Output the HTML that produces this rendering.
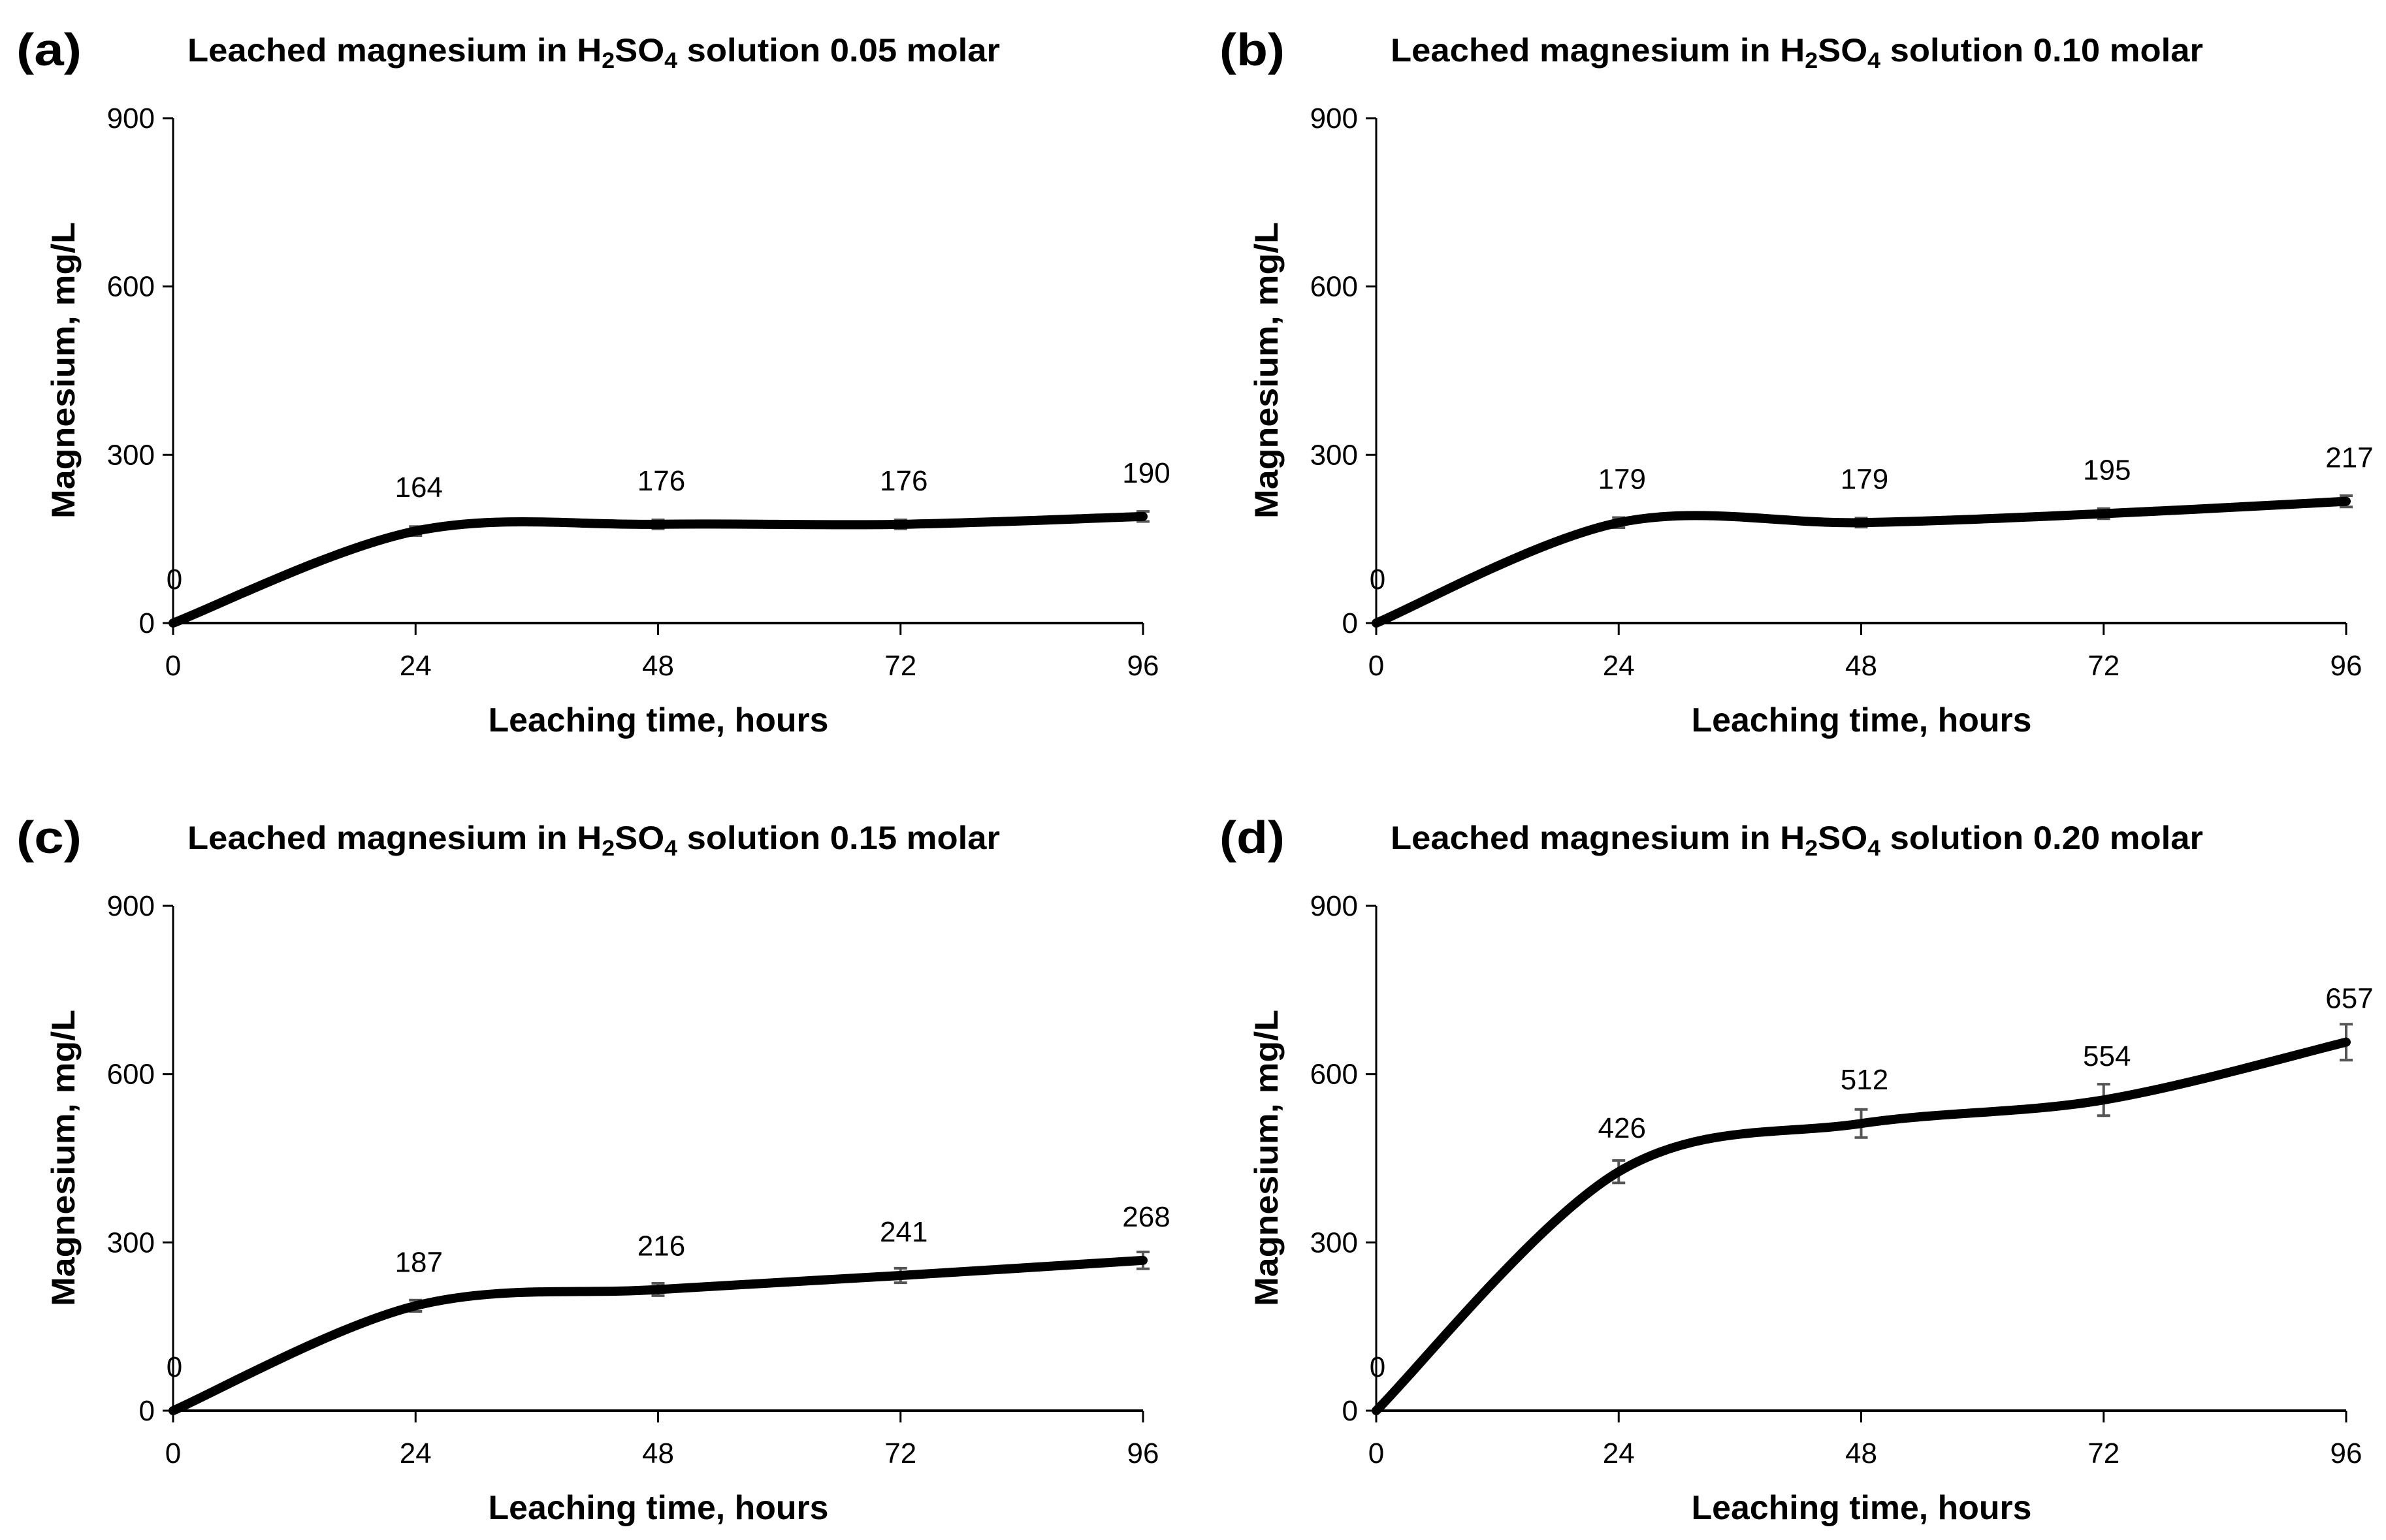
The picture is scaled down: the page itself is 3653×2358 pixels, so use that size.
<!DOCTYPE html>
<html><head><meta charset="utf-8"><style>
html,body{margin:0;padding:0;background:#fff;}
svg{display:block;}
text{font-family:"Liberation Sans Narrow","Liberation Sans",sans-serif;}
.b{font-family:"Liberation Sans",sans-serif;font-weight:bold;}
</style></head><body>
<svg id="fig" width="3653" height="2358" viewBox="0 0 3653 2358" xmlns="http://www.w3.org/2000/svg"></svg>
<script>
const hours = [0, 24, 48, 72, 96];
const valuesA = [0, 164, 176, 176, 190];
const valuesB = [0, 179, 179, 195, 217];
const valuesC = [0, 187, 216, 241, 268];
const valuesD = [0, 426, 512, 554, 657];
const errA = [0, 8, 8, 8, 9];
const errB = [0, 9, 8, 9, 10];
const errC = [0, 10, 11, 13, 15];
const errD = [0, 20, 25, 28, 32];
const yTicks = [0, 300, 600, 900];
const xTicks = [0, 24, 48, 72, 96];
const panelLetters = ["(a)", "(b)", "(c)", "(d)"];
const molarities = ["0.05", "0.10", "0.15", "0.20"];

const NS = "http://www.w3.org/2000/svg";
const svg = document.getElementById("fig");
function mk(tag, attrs, parent, txt){
  const e = document.createElementNS(NS, tag);
  for (const k in attrs) e.setAttribute(k, attrs[k]);
  if (txt !== undefined) e.textContent = txt;
  parent.appendChild(e);
  return e;
}
const panels = [
  {dx:0, dy:0, v:valuesA, e:errA},
  {dx:1842, dy:0, v:valuesB, e:errB},
  {dx:0, dy:1206, v:valuesC, e:errC},
  {dx:1842, dy:1206, v:valuesD, e:errD}
];
panels.forEach((p, i) => {
  const x0 = 265 + p.dx, x1 = 1750 + p.dx, y0 = 954 + p.dy, y1 = 181 + p.dy;
  const sx = h => x0 + (h - 0) / 96 * (x1 - x0);
  const sy = v => y0 - v / 900 * (y0 - y1);
  const g = mk("g", {}, svg);
  
  
  let t = mk("text", {x: 25 + p.dx, y: 100 + p.dy, "font-size": 70, class: "b", textLength: 100, lengthAdjust: "spacingAndGlyphs"}, g, panelLetters[i]);
  
  
  t = mk("text", {x: 287 + p.dx, y: 94 + p.dy, "font-size": 50, class: "b", textLength: 1244, lengthAdjust: "spacingAndGlyphs"}, g);
  
  
  t.appendChild(document.createTextNode("Leached magnesium in H"));
  mk("tspan", {dy: 10, "font-size": 34}, t, "2");
  mk("tspan", {dy: -10}, t, "SO");
  mk("tspan", {dy: 10, "font-size": 34}, t, "4");
  mk("tspan", {dy: -10}, t, " solution " + molarities[i] + " molar");
  let a = mk("line", {x1: x0, y1: y1, x2: x0, y2: y0, stroke: "#000", "stroke-width": 3}, g);
  
  
  a = mk("line", {x1: x0, y1: y0, x2: x1, y2: y0, stroke: "#000", "stroke-width": 4}, g);
  
  
  yTicks.forEach(v => {
    mk("line", {x1: x0 - 16, y1: sy(v), x2: x0, y2: sy(v), stroke: "#000", "stroke-width": 3}, g);
    const l = mk("text", {x: x0 - 28, y: sy(v) + 15, "font-size": 44, "text-anchor": "end"}, g, String(v));
    
    
  });
  xTicks.forEach(h => {
    mk("line", {x1: sx(h), y1: y0, x2: sx(h), y2: y0 + 18, stroke: "#000", "stroke-width": 3}, g);
    const l = mk("text", {x: sx(h), y: y0 + 80, "font-size": 44, "text-anchor": "middle"}, g, String(h));
    
    
  });
  t = mk("text", {x: 1008 + p.dx, y: 1120 + p.dy, "font-size": 52, class: "b", "text-anchor": "middle", textLength: 521, lengthAdjust: "spacingAndGlyphs"}, g, "Leaching time, hours");
  
  
  t = mk("text", {x: 0, y: 0, "font-size": 50, class: "b", "text-anchor": "middle", textLength: 454, lengthAdjust: "spacingAndGlyphs", transform: `translate(${114 + p.dx},${567 + p.dy}) rotate(-90)`}, g, "Magnesium, mg/L");
  
  
  p.v.forEach((v, k) => {
    if (p.e[k] <= 0) return;
    const eg = mk("g", {stroke: "#555", "stroke-width": 4}, g);
    
    
    const x = sx(hours[k]), ya = sy(v + p.e[k]), yb = sy(v - p.e[k]);
    mk("line", {x1: x, y1: ya, x2: x, y2: yb}, eg);
    mk("line", {x1: x - 10, y1: ya, x2: x + 10, y2: ya}, eg);
    mk("line", {x1: x - 10, y1: yb, x2: x + 10, y2: yb}, eg);
  });
  const pts = p.v.map((v, k) => [sx(hours[k]), sy(v)]);
  let d = `M${pts[0][0]},${pts[0][1]}`;
  for (let k = 0; k < pts.length - 1; k++) {
    const p0 = pts[Math.max(0, k - 1)], p1 = pts[k], p2 = pts[k + 1], p3 = pts[Math.min(pts.length - 1, k + 2)];
    const c1 = [p1[0] + (p2[0] - p0[0]) / 6, p1[1] + (p2[1] - p0[1]) / 6];
    const c2 = [p2[0] - (p3[0] - p1[0]) / 6, p2[1] - (p3[1] - p1[1]) / 6];
    d += ` C${c1[0]},${c1[1]} ${c2[0]},${c2[1]} ${p2[0]},${p2[1]}`;
  }
  const path = mk("path", {d: d, fill: "none", stroke: "#000", "stroke-width": 14, "stroke-linecap": "round", "stroke-linejoin": "round"}, g);
  
  
  p.v.forEach((v, k) => {
    const l = mk("text", {x: sx(hours[k]) + (k === 0 ? 2 : 5), y: sy(v) - 52, "font-size": 44, "text-anchor": "middle"}, g, String(v));
    
    
  });
});
</script>
</body></html>
